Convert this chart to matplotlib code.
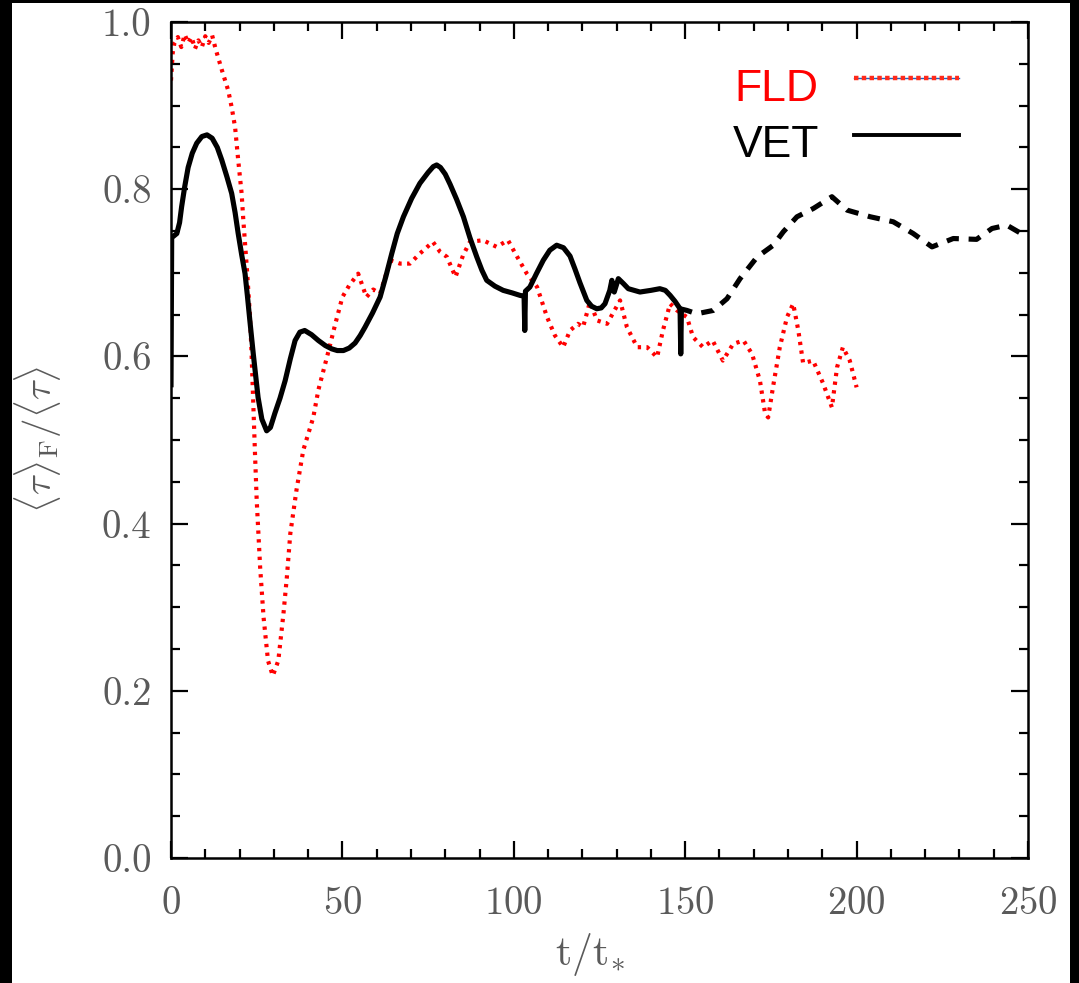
import numpy as np
import matplotlib
matplotlib.use('Agg')
import matplotlib.pyplot as plt
from matplotlib.patches import Rectangle
from matplotlib.ticker import MultipleLocator

plt.rcParams['mathtext.fontset'] = 'cm'
plt.rcParams['font.family'] = 'serif'
plt.rcParams['font.serif'] = ['cmr10']
plt.rcParams['axes.formatter.use_mathtext'] = True

# FLD (red dotted)
fld_t = [0, 0.5, 1, 2, 3, 4, 5, 6, 7, 8, 9, 10, 11, 12, 13, 14.8, 16.7, 17.7, 18.7, 19.6,
         20.6, 21.1, 22.1, 23, 23.5, 24, 24.5, 25, 26, 27, 28.3, 29.7, 31.3, 32.8, 33.8,
         34.8, 36.6, 38.6, 41.5, 43, 45.8, 48, 50, 52, 54.6, 57, 59, 61, 64, 66.8, 69.7,
         72.6, 76.4, 78.5, 80.5, 83, 85.2, 87.2, 91, 95, 98.3, 101, 103.8, 106.8, 109.7,
         112, 114.4, 116.4, 118.7, 120.2, 122.2, 124.3, 127.2, 131, 133, 136, 138.9,
         141.8, 143.5, 145.6, 147.6, 150.5, 152.3, 155.2, 158, 161, 164, 167, 169.5,
         171.8, 173.3, 174.2, 175.6, 177.6, 179.7, 181.5, 183, 184.4, 187.3, 190.2,
         192.8, 194.3, 196, 198, 200]
fld_v = [0.930, 0.963, 0.975, 0.982, 0.970, 0.985, 0.975, 0.982, 0.968, 0.978, 0.970,
         0.983, 0.975, 0.984, 0.968, 0.943, 0.918, 0.898, 0.874, 0.835,
         0.795, 0.763, 0.707, 0.651, 0.604, 0.544, 0.484, 0.428, 0.348, 0.288, 0.236,
         0.218, 0.236, 0.292, 0.336, 0.388, 0.440, 0.488, 0.527, 0.560, 0.604, 0.640,
         0.671, 0.685, 0.699, 0.671, 0.680, 0.675, 0.715, 0.711, 0.711, 0.723, 0.737,
         0.725, 0.719, 0.695, 0.721, 0.737, 0.739, 0.731, 0.739, 0.719, 0.699, 0.683,
         0.647, 0.625, 0.611, 0.631, 0.639, 0.635, 0.665, 0.643, 0.639, 0.667, 0.635,
         0.611, 0.611, 0.599, 0.631, 0.663, 0.655, 0.647, 0.623, 0.611, 0.619, 0.595,
         0.615, 0.619, 0.603, 0.571, 0.532, 0.527, 0.563, 0.611, 0.647, 0.663, 0.631,
         0.592, 0.595, 0.568, 0.539, 0.587, 0.611, 0.595, 0.563]

# VET solid part
vet_t = [0, 0.2, 1.7, 2.5, 3.1, 4, 5, 6.2, 7.5, 9, 10.5, 12, 13.5, 14.8, 16.3, 17.7,
         18.7, 19.6, 20.6, 21.6, 22.3, 23, 24, 25.4, 26.5, 27.9, 29, 30.3, 31.8, 33.3,
         34.8, 36.2, 37.6, 39, 41, 43, 45, 46.9, 48.5, 50.3, 52, 53.7, 55.2, 56.6, 58.8,
         61, 62.7, 64.4, 66, 67.8, 70.2, 72.6, 75, 76.5, 77.5, 78.6, 80, 81.4, 83.3,
         85.3, 87.2, 89.2, 90.7, 92.1, 94.5, 96.9, 99.5, 101.8, 103.0, 103.2, 103.4,
         104.7, 106.6, 108.6, 110.5, 112.5, 114.5, 116.4, 117.8, 119.3, 121.3, 122.7,
         124.2, 125.5, 126.6, 128, 128.6, 129.3, 130.5, 132, 133.4, 136.8, 140, 142.6,
         144.2, 145.6, 147, 148.5, 148.7, 148.9]
vet_v = [0.563, 0.742, 0.747, 0.760, 0.779, 0.803, 0.826, 0.843, 0.855, 0.863, 0.865,
         0.861, 0.850, 0.835, 0.815, 0.795, 0.772, 0.747, 0.722, 0.699, 0.672, 0.643,
         0.603, 0.551, 0.525, 0.511, 0.515, 0.532, 0.550, 0.571, 0.597, 0.619, 0.629,
         0.631, 0.626, 0.619, 0.613, 0.609, 0.607, 0.607, 0.610, 0.616, 0.625, 0.635,
         0.652, 0.671, 0.696, 0.723, 0.747, 0.767, 0.789, 0.807, 0.820, 0.827, 0.829,
         0.826, 0.818, 0.806, 0.788, 0.767, 0.742, 0.719, 0.703, 0.691, 0.684, 0.679,
         0.676, 0.673, 0.672, 0.631, 0.678, 0.683, 0.699, 0.715, 0.727, 0.733, 0.730,
         0.720, 0.705, 0.688, 0.667, 0.660, 0.657, 0.658, 0.663, 0.679, 0.691, 0.677,
         0.693, 0.687, 0.681, 0.677, 0.679, 0.681, 0.679, 0.673, 0.666, 0.657, 0.603,
         0.657]

# VET dashed continuation
vetd_t = [148.5, 150.5, 153.4, 158.2, 162.2, 166, 171, 175.7, 178.6, 182.6, 187.4, 192.8,
          197.2, 204, 210.7, 216.5, 222, 228.2, 235, 239.5, 243.8, 249.7]
vetd_v = [0.657, 0.655, 0.651, 0.655, 0.669, 0.693, 0.719, 0.733, 0.749, 0.767, 0.777,
          0.791, 0.775, 0.767, 0.761, 0.747, 0.731, 0.741, 0.740, 0.753, 0.757, 0.743]

fig = plt.figure(figsize=(10.79, 9.83), dpi=100)
fig.patch.set_facecolor('black')
fig.patches.append(Rectangle((12 / 1079, 0), 1058 / 1079, 980 / 983,
                             transform=fig.transFigure, facecolor='white',
                             edgecolor='none', zorder=-10))

ax = fig.add_axes([171 / 1079, 125 / 983, 857 / 1079, 836 / 983])
ax.set_facecolor('white')

ax.plot(fld_t, fld_v, color='red', lw=3.0, linestyle=(0, (0.8, 1.3)), zorder=2)
ax.plot(vet_t, vet_v, color='black', lw=3.7, solid_capstyle='butt',
        solid_joinstyle='round', zorder=3)
ax.plot(vetd_t, vetd_v, color='black', lw=3.7, linestyle=(0, (2.4, 1.9)), zorder=3)

ax.set_xlim(0, 250)
ax.set_ylim(0, 1.0)
ax.xaxis.set_major_locator(MultipleLocator(50))
ax.xaxis.set_minor_locator(MultipleLocator(10))
ax.yaxis.set_major_locator(MultipleLocator(0.2))
ax.yaxis.set_minor_locator(MultipleLocator(0.05))
ax.set_yticklabels([f'{v:.1f}' for v in ax.get_yticks()])

gray = '#5a5a5a'
ax.tick_params(which='both', direction='in', top=True, right=True, width=1.6,
               colors='black', labelcolor=gray, labelsize=28)
ax.tick_params(which='major', length=12, pad=14)
ax.tick_params(which='minor', length=6.5)
ax.tick_params(axis='x', pad=20)
for s in ax.spines.values():
    s.set_linewidth(1.8)

ax.set_xlabel(r'$\mathrm{t/t}_{\!*}$', fontsize=30, color=gray)
ax.xaxis.set_label_coords(0.489, -0.087)
ax.set_ylabel(r'$\langle\tau\rangle_{\rm F}/\langle\tau\rangle$', fontsize=28, color=gray)
ax.yaxis.set_label_coords(-0.125, 0.5)

# hand-drawn legend
sans = ['Liberation Sans', 'DejaVu Sans']
ax.text(0.657, 0.906, 'FLD', color='red', fontsize=32, family=sans,
        transform=ax.transAxes, ha='left', va='baseline')
ax.text(0.656, 0.838, 'VET', color='black', fontsize=32, family=sans,
        transform=ax.transAxes, ha='left', va='baseline')
ax.plot([0.797, 0.920], [0.933, 0.933], color='#2060c0', lw=1.0, transform=ax.transAxes)
ax.plot([0.797, 0.920], [0.933, 0.933], color='#ff2a1a', lw=3.2,
        linestyle=(0, (1, 0.75)), transform=ax.transAxes)
ax.plot([0.797, 0.920], [0.865, 0.865], color='black', lw=2.8, transform=ax.transAxes)

fig.savefig('out.png', dpi=100, facecolor=fig.get_facecolor())
